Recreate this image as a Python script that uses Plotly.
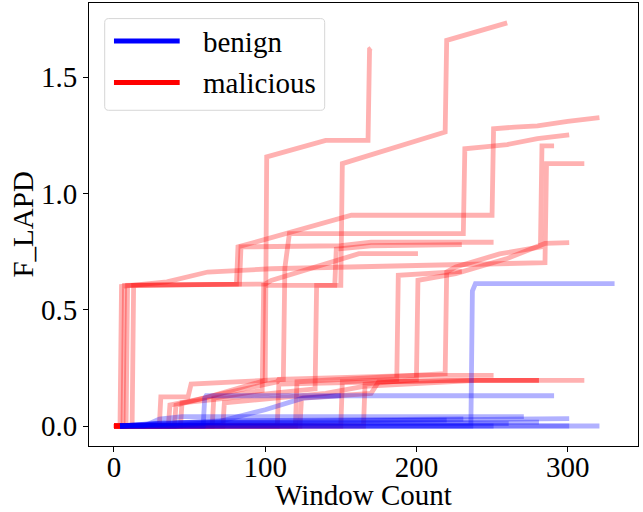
import plotly.graph_objects as go

# ---------------- data (window count, F_LAPD) ----------------
# benign traces
benign_1_x = [4, 236, 237, 239, 331]
benign_1_y = [0, 0, 0.58, 0.612, 0.612]
benign_2_x = [4, 59, 60, 61, 291]
benign_2_y = [0, 0, 0.12, 0.13, 0.13]
benign_3_x = [4, 40, 70, 100, 125, 150]
benign_3_y = [0, 0, 0.02, 0.07, 0.12, 0.13]
benign_4_x = [4, 20, 30, 45, 271]
benign_4_y = [0, 0, 0.03, 0.04, 0.04]
benign_5_x = [4, 30, 200, 301]
benign_5_y = [0, 0.012, 0.025, 0.032]
benign_6_x = [4, 40, 281]
benign_6_y = [0, 0.015, 0.017]
benign_7_x = [4, 321]
benign_7_y = [0, 0]
benign_8_x = [4, 301]
benign_8_y = [0, 0]
benign_9_x = [4, 50, 261]
benign_9_y = [0, 0.01, 0.01]
benign_10_x = [4, 251]
benign_10_y = [0, 0.0]
benign_11_x = [4, 60, 220]
benign_11_y = [0, 0.02, 0.025]
benign_12_x = [4, 70, 231]
benign_12_y = [0, 0.022, 0.03]

# malicious traces
malicious_1_x = [0, 65, 66, 98, 99, 150, 151, 219, 220, 260]
malicious_1_y = [0, 0, 0.12, 0.153, 0.605, 0.605, 1.128, 1.264, 1.658, 1.733]
malicious_2_x = [0, 36, 37, 60, 100, 101, 140, 168, 169, 170]
malicious_2_y = [0, 0, 0.09, 0.12, 0.196, 1.157, 1.228, 1.228, 1.62, 1.625]
malicious_3_x = [0, 6, 7, 81, 82, 157, 250, 251, 265, 280, 300, 321]
malicious_3_y = [0, 0, 0.605, 0.61, 0.77, 0.906, 0.906, 1.278, 1.285, 1.29, 1.31, 1.326]
malicious_4_x = [0, 30, 31, 49, 51, 112, 113, 116, 231, 232, 245, 260, 280, 301]
malicious_4_y = [0, 0, 0.125, 0.125, 0.18, 0.2, 0.68, 0.827, 0.827, 1.192, 1.2, 1.21, 1.235, 1.252]
malicious_5_x = [0, 8, 9, 83, 84, 150, 170, 251]
malicious_5_y = [0, 0, 0.605, 0.61, 0.77, 0.775, 0.79, 0.79]
malicious_6_x = [0, 12, 13, 100, 104, 162, 201]
malicious_6_y = [0, 0, 0.605, 0.61, 0.626, 0.741, 0.741]
malicious_7_x = [0, 44, 45, 100, 133, 134, 146, 147, 170, 230]
malicious_7_y = [0, 0, 0.1, 0.14, 0.16, 0.605, 0.605, 0.76, 0.775, 0.78]
malicious_8_x = [0, 4, 5, 35, 62, 104, 200, 285, 286, 311]
malicious_8_y = [0, 0, 0.6, 0.62, 0.662, 0.676, 0.69, 0.702, 1.128, 1.128]
malicious_9_x = [0, 120, 121, 219, 220, 226, 255, 282, 283, 291]
malicious_9_y = [0, 0, 0.19, 0.225, 0.662, 0.684, 0.74, 0.77, 1.204, 1.204]
malicious_10_x = [0, 165, 166, 200, 201, 226, 260, 285, 301]
malicious_10_y = [0, 0, 0.18, 0.2, 0.626, 0.655, 0.72, 0.785, 0.788]
malicious_11_x = [0, 150, 151, 187, 188, 230]
malicious_11_y = [0, 0, 0.19, 0.2, 0.648, 0.665]
malicious_12_x = [0, 40, 41, 65, 108, 109, 160, 200, 251]
malicious_12_y = [0, 0, 0.09, 0.13, 0.19, 0.2, 0.21, 0.218, 0.218]
malicious_13_x = [0, 108, 109, 170, 220, 281]
malicious_13_y = [0, 0, 0.18, 0.19, 0.196, 0.196]
malicious_14_x = [0, 123, 124, 170, 175, 230, 311]
malicious_14_y = [0, 0, 0.12, 0.14, 0.19, 0.196, 0.196]
malicious_15_x = [0, 72, 73, 140, 165, 240, 281]
malicious_15_y = [0, 0, 0.1, 0.14, 0.17, 0.196, 0.196]

x_tick_vals = [0, 100, 200, 300]
y_tick_vals = [0.0, 0.5, 1.0, 1.5]
legend_labels = ["benign", "malicious"]
x_title = "Window Count"
y_title = "F_LAPD"

benign = [
    (benign_1_x, benign_1_y), (benign_2_x, benign_2_y), (benign_3_x, benign_3_y),
    (benign_4_x, benign_4_y), (benign_5_x, benign_5_y), (benign_6_x, benign_6_y),
    (benign_7_x, benign_7_y), (benign_8_x, benign_8_y), (benign_9_x, benign_9_y),
    (benign_10_x, benign_10_y), (benign_11_x, benign_11_y), (benign_12_x, benign_12_y),
]
malicious = [
    (malicious_1_x, malicious_1_y), (malicious_2_x, malicious_2_y),
    (malicious_3_x, malicious_3_y), (malicious_4_x, malicious_4_y),
    (malicious_5_x, malicious_5_y), (malicious_6_x, malicious_6_y),
    (malicious_7_x, malicious_7_y), (malicious_8_x, malicious_8_y),
    (malicious_9_x, malicious_9_y), (malicious_10_x, malicious_10_y),
    (malicious_11_x, malicious_11_y), (malicious_12_x, malicious_12_y),
    (malicious_13_x, malicious_13_y), (malicious_14_x, malicious_14_y),
    (malicious_15_x, malicious_15_y),
]

FONT = "Liberation Serif"
FS = 29
LW = 4.8

fig = go.Figure()
for xs, ys in malicious:
    fig.add_trace(go.Scatter(x=xs, y=ys, mode="lines", opacity=0.3,
                             line=dict(color="red", width=LW),
                             showlegend=False, hoverinfo="skip"))
for xs, ys in benign:
    fig.add_trace(go.Scatter(x=xs, y=ys, mode="lines", opacity=0.3,
                             line=dict(color="blue", width=LW),
                             showlegend=False, hoverinfo="skip"))

# custom legend (matplotlib-like)
x0, x1, y0, y1 = 0.0286, 0.4293, 0.7578, 0.9648
rx, ry = 0.0073, 0.009
path = (f"M {x0+rx},{y0} L {x1-rx},{y0} Q {x1},{y0} {x1},{y0+ry} "
        f"L {x1},{y1-ry} Q {x1},{y1} {x1-rx},{y1} L {x0+rx},{y1} "
        f"Q {x0},{y1} {x0},{y1-ry} L {x0},{y0+ry} Q {x0},{y0} {x0+rx},{y0} Z")
shapes = [dict(type="path", path=path, xref="paper", yref="paper",
               line=dict(color="#d6d6d6", width=1),
               fillcolor="rgba(255,255,255,0.8)", layer="above")]
annotations = []
for label, color, ly in [(legend_labels[0], "blue", 0.9142), (legend_labels[1], "red", 0.8203)]:
    shapes.append(dict(type="line", xref="paper", yref="paper",
                       x0=0.0455, x1=0.1652, y0=ly, y1=ly,
                       line=dict(color=color, width=5), layer="above"))
    annotations.append(dict(text=label, xref="paper", yref="paper",
                            x=0.2046, y=ly - 0.002, xanchor="left", yanchor="middle",
                            showarrow=False, font=dict(family=FONT, size=FS, color="black")))

# axis titles placed precisely
annotations.append(dict(text=x_title, xref="paper", yref="paper", x=0.5, y=-0.11,
                        xanchor="center", yanchor="middle", showarrow=False,
                        font=dict(family=FONT, size=FS, color="black")))
annotations.append(dict(text=y_title, xref="paper", yref="paper", x=-0.122, y=0.5,
                        xanchor="center", yanchor="middle", textangle=-90, showarrow=False,
                        font=dict(family=FONT, size=FS, color="black")))

fig.update_layout(
    width=643, height=512,
    margin=dict(l=89, r=5, t=3, b=66),
    paper_bgcolor="white", plot_bgcolor="white",
    font=dict(family=FONT, size=FS, color="black"),
    shapes=shapes, annotations=annotations,
    showlegend=False,
)
fig.update_xaxes(
    range=[-16.5, 346.5], tickvals=x_tick_vals, ticktext=[str(v) for v in x_tick_vals],
    ticks="outside", ticklen=5, tickwidth=1, tickcolor="black",
    showline=True, linecolor="black", linewidth=1, mirror=True,
    showgrid=False, zeroline=False, ticklabelstandoff=-10,
    tickfont=dict(family=FONT, size=FS),
)
fig.update_yaxes(
    range=[-0.086, 1.8186], tickvals=y_tick_vals, ticktext=[f"{v:.1f}" for v in y_tick_vals],
    ticks="outside", ticklen=5, tickwidth=1, tickcolor="black",
    showline=True, linecolor="black", linewidth=1, mirror=True,
    showgrid=False, zeroline=False,
    tickfont=dict(family=FONT, size=FS),
)

fig.write_html("out.html", config={"displayModeBar": False},
               post_script="document.body.style.margin='0px';document.body.style.overflow='hidden';")
